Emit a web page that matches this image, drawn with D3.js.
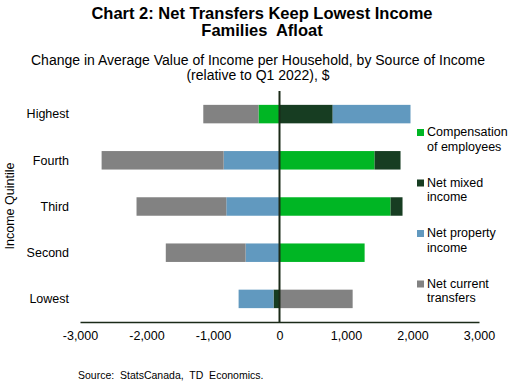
<!DOCTYPE html>
<html>
<head>
<meta charset="utf-8">
<script src="https://cdn.jsdelivr.net/npm/d3@7"></script>
<style>
  body { margin: 0; background: #fff; }
  text { font-family: "Liberation Sans", Arial, sans-serif; fill: #000; }
</style>
</head>
<body>
<svg id="chart" width="517" height="386"></svg>
<script>
// data
var quintiles = ["Highest", "Fourth", "Third", "Second", "Lowest"];
var seriesNames = ["Compensation of employees", "Net mixed income", "Net property income", "Net current transfers"];
var compensation = [-316, 1430, 1670, 1280, 0];
var mixedIncome = [800, 390, 180, 0, -90];
var propertyIncome = [1170, -840, -800, -510, -525];
var currentTransfers = [-830, -1835, -1350, -1200, 1100];
var xTicks = [-3000, -2000, -1000, 0, 1000, 2000, 3000];

var colors = ["#00b624", "#173d22", "#6199bf", "#828282"];
var legendLines = [["Compensation", "of employees"], ["Net mixed", "income"], ["Net property", "income"], ["Net current", "transfers"]];

var svg = d3.select("#chart");

// build rows for d3.stack
var rows = quintiles.map(function(q, i) {
	return {
		q: q,
		s0: compensation[i],
		s1: mixedIncome[i],
		s2: propertyIncome[i],
		s3: currentTransfers[i]
	};
});

var stack = d3.stack()
	.keys(["s0", "s1", "s2", "s3"])
	.offset(d3.stackOffsetDiverging);
var layers = stack(rows);

var x = d3.scaleLinear().domain([-3000, 3000]).range([80, 479]);
var y = d3.scaleBand().domain(quintiles).range([91, 322]).paddingInner(0.6).paddingOuter(0.3);

// titles
svg.append("text").attr("x", 262).attr("y", 19).attr("text-anchor", "middle")
	.style("font-weight", "bold").style("font-size", "16.5px")
	.text("Chart 2: Net Transfers Keep Lowest Income");
svg.append("text").attr("x", 262).attr("y", 36).attr("text-anchor", "middle")
	.style("font-weight", "bold").style("font-size", "16.5px")
	.style("white-space", "pre")
	.text("Families  Afloat");
svg.append("text").attr("x", 258).attr("y", 65).attr("text-anchor", "middle")
	.style("font-size", "14px")
	.text("Change in Average Value of Income per Household, by Source of Income");
svg.append("text").attr("x", 258).attr("y", 80).attr("text-anchor", "middle")
	.style("font-size", "14px")
	.text("(relative to Q1 2022), $");

// bars
svg.append("g").selectAll("g")
	.data(layers)
	.join("g")
	.attr("fill", function(d, i) { return colors[i]; })
	.selectAll("rect")
	.data(function(d) { return d; })
	.join("rect")
	.attr("x", function(d) { return x(Math.min(d[0], d[1])); })
	.attr("width", function(d) { return Math.abs(x(d[1]) - x(d[0])); })
	.attr("y", function(d) { return y(d.data.q); })
	.attr("height", y.bandwidth());

// zero line
svg.append("line")
	.attr("x1", x(0)).attr("x2", x(0))
	.attr("y1", 91).attr("y2", 322)
	.attr("stroke", "#1b2a18").attr("stroke-width", 2);

// x axis, hyphen minus like the original
var fmt = d3.format(",");
var xAxis = svg.append("g")
	.attr("transform", "translate(0,322)")
	.call(d3.axisBottom(x).tickValues(xTicks).tickSize(0).tickPadding(9)
		.tickFormat(function(d) { return fmt(d).replace("\u2212", "-"); }));
xAxis.select(".domain").attr("stroke", "#1b2a18").attr("stroke-width", 1.5);
xAxis.selectAll("text").style("font-size", "12.5px")
	.style("font-family", "'Liberation Sans', Arial, sans-serif");

// category labels
svg.append("g").selectAll("text")
	.data(quintiles)
	.join("text")
	.attr("x", 69)
	.attr("y", function(d) { return y(d) + y.bandwidth() / 2; })
	.attr("dy", "0.35em")
	.attr("text-anchor", "end")
	.style("font-size", "12.5px")
	.text(function(d) { return d; });

// y axis title
svg.append("text")
	.attr("transform", "translate(14,206) rotate(-90)")
	.attr("text-anchor", "middle")
	.style("font-size", "12.5px")
	.text("Income Quintile");

// legend
var legend = svg.append("g").selectAll("g")
	.data(legendLines)
	.join("g")
	.attr("transform", function(d, i) { return "translate(417," + (132 + i * 50.5) + ")"; });
legend.append("rect")
	.attr("x", 0).attr("y", -3).attr("width", 7).attr("height", 7)
	.attr("fill", function(d, i) { return colors[i]; });
legend.append("text")
	.attr("x", 10).attr("y", 0)
	.style("font-size", "12.5px")
	.selectAll("tspan")
	.data(function(d) { return d; })
	.join("tspan")
	.attr("x", 10)
	.attr("dy", function(d, i) { return i === 0 ? "0.35em" : "1.15em"; })
	.text(function(d) { return d; });

// source
svg.append("text").attr("x", 78).attr("y", 379)
	.style("font-size", "10.5px")
	.style("white-space", "pre")
	.text("Source:  StatsCanada,  TD  Economics.");
</script>
</body>
</html>
